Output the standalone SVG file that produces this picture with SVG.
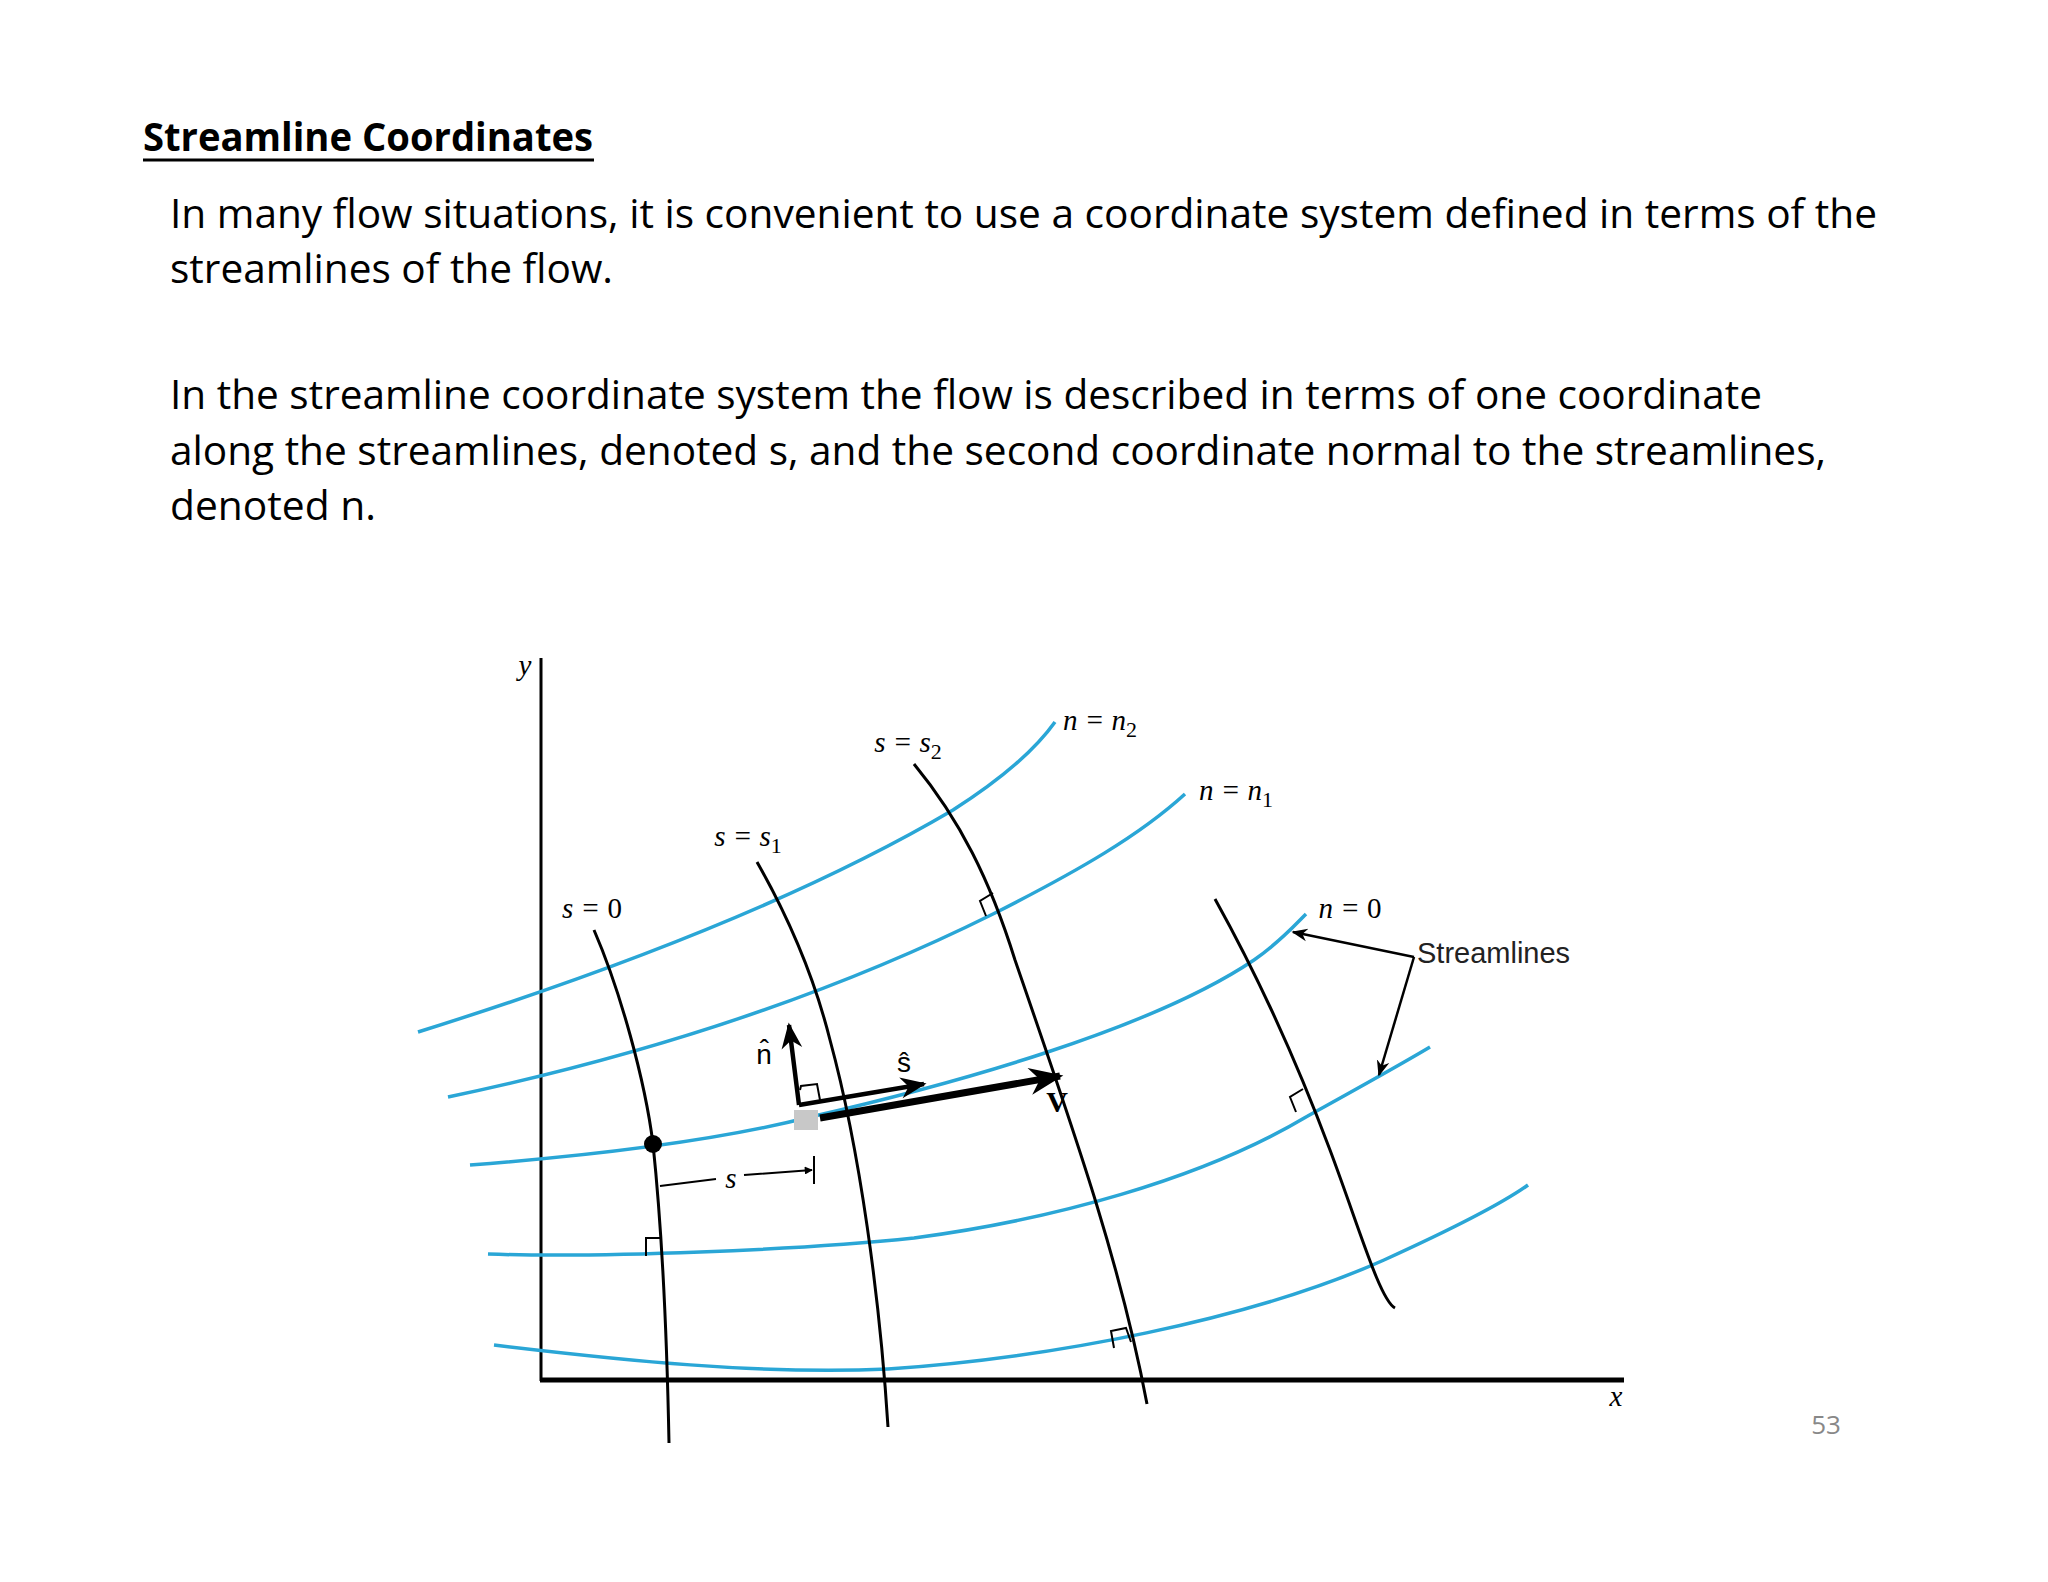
<svg xmlns="http://www.w3.org/2000/svg" width="2048" height="1582" viewBox="0 0 2048 1582">
<style>
.t{font-family:"Open Sans","Liberation Sans",sans-serif;font-size:40px;fill:#000}
.m{font-family:"Liberation Serif",serif;font-style:italic;font-size:29px;fill:#000}
.sl{fill:none;stroke:#2aa6d6;stroke-width:3.5}
.nl{fill:none;stroke:#000;stroke-width:3}
.ra{fill:none;stroke:#000;stroke-width:2}
</style>
<defs>
<marker id="ah" viewBox="0 0 10 10" refX="9" refY="5" markerWidth="10" markerHeight="8" orient="auto" markerUnits="userSpaceOnUse"><path d="M0,0L10,5L0,10z" fill="#000"/></marker>
<marker id="ab" viewBox="0 0 10 10" refX="9" refY="5" markerWidth="16" markerHeight="16" orient="auto" markerUnits="userSpaceOnUse"><path d="M0,1L10,5L0,9L3,5z" fill="#000"/></marker>
<marker id="am" viewBox="0 0 10 10" refX="9" refY="5" markerWidth="32" markerHeight="26" orient="auto" markerUnits="userSpaceOnUse"><path d="M0,1L10,5L0,9L3,5z" fill="#000"/></marker>
<marker id="ab2" viewBox="0 0 10 10" refX="9" refY="5" markerWidth="40" markerHeight="34" orient="auto" markerUnits="userSpaceOnUse"><path d="M0,1L10,5L0,9L3,5z" fill="#000"/></marker>
</defs>
<rect width="2048" height="1582" fill="#fff"/>
<g id="text">
<text x="143" y="151" class="t" font-weight="bold" textLength="450" lengthAdjust="spacingAndGlyphs">Streamline Coordinates</text>
<line x1="143" y1="160" x2="594" y2="160" stroke="#000" stroke-width="3"/>
<text x="170" y="228" class="t" textLength="1707" lengthAdjust="spacingAndGlyphs">In many flow situations, it is convenient to use a coordinate system defined in terms of the</text>
<text x="170" y="283" class="t" textLength="443" lengthAdjust="spacingAndGlyphs">streamlines of the flow.</text>
<text x="170" y="409" class="t" textLength="1592" lengthAdjust="spacingAndGlyphs">In the streamline coordinate system the flow is described in terms of one coordinate</text>
<text x="170" y="465" class="t" textLength="1656" lengthAdjust="spacingAndGlyphs">along the streamlines, denoted s, and the second coordinate normal to the streamlines,</text>
<text x="170" y="520" class="t" textLength="206" lengthAdjust="spacingAndGlyphs">denoted n.</text>
<text x="1826" y="1434" font-family="Open Sans, Liberation Sans, sans-serif" font-size="26" fill="#888" text-anchor="middle">53</text>
</g>
<g id="axes">
<line x1="541" y1="658" x2="541" y2="1381" stroke="#000" stroke-width="3"/>
<line x1="540" y1="1380" x2="1624" y2="1380" stroke="#000" stroke-width="5"/>
<text x="525" y="675" class="m" text-anchor="middle">y</text>
<text x="1616" y="1406" class="m" text-anchor="middle">x</text>
</g>
<g id="streamlines">
<path class="sl" d="M418,1032 C600,975 800,900 953,810 C1000,780 1035,750 1055,722"/>
<path class="sl" d="M448,1097 C600,1065 800,1010 993,914 C1080,870 1140,835 1185,794"/>
<path class="sl" d="M470,1165 C600,1155 720,1140 810,1117 C950,1085 1150,1030 1254,960 C1280,942 1295,925 1306,914"/>
<path class="sl" d="M488,1254 C600,1258 800,1250 914,1238 C1050,1220 1200,1180 1306,1117 C1360,1087 1400,1065 1430,1047"/>
<path class="sl" d="M494,1345 C620,1360 760,1375 888,1369 C1050,1358 1250,1320 1384,1260 C1450,1230 1500,1205 1528,1185"/>
</g>
<g id="normals">
<path class="nl" d="M594,930 C620,990 645,1080 653,1144 C662,1230 667,1340 669,1443"/>
<path class="nl" d="M757,862 C790,920 815,980 830,1040 C860,1150 880,1300 888,1427"/>
<path class="nl" d="M914,764 C960,820 990,880 1015,960 C1070,1120 1120,1260 1147,1404"/>
<path class="nl" d="M1215,899 C1260,980 1300,1070 1330,1150 C1360,1230 1380,1300 1395,1308"/>
<path class="ra" d="M993,893 L980,901 L986,916"/>
<path class="ra" d="M1303,1089 L1290,1097 L1296,1112"/>
<path class="ra" d="M646,1256 L646,1238 L662,1238"/>
<path class="ra" d="M1114,1348 L1111,1331 L1126,1328 L1131,1342"/>
<path class="ra" d="M800,1090 L801,1086 L817,1084 L820,1100"/>
</g>
<g id="vectors">
<circle cx="653" cy="1144" r="9" fill="#000"/>
<rect x="794" y="1110" width="24" height="20" fill="#c8c8c8"/>
<path d="M799,1105 L789,1025" stroke="#000" stroke-width="4.5" fill="none" marker-end="url(#am)"/>
<path d="M799,1105 L924,1084" stroke="#000" stroke-width="4.5" fill="none" marker-end="url(#am)"/>
<path d="M820,1118 L1060,1076" stroke="#000" stroke-width="7" fill="none" marker-end="url(#ab2)"/>
<text x="764" y="1064" font-family="Liberation Sans,sans-serif" font-size="28" text-anchor="middle">n̂</text>
<text x="904" y="1072" font-family="Liberation Sans,sans-serif" font-size="28" text-anchor="middle">ŝ</text>
<text x="1057" y="1112" font-family="Liberation Serif,serif" font-weight="bold" font-size="30" text-anchor="middle">V</text>
<path d="M660,1186 L716,1179 M744,1175 L812,1170" stroke="#000" stroke-width="2" fill="none" marker-end="url(#ah)"/>
<line x1="814" y1="1156" x2="814" y2="1184" stroke="#000" stroke-width="2"/>
<text x="731" y="1188" class="m" text-anchor="middle">s</text>
</g>
<g id="labels">
<text x="592" y="918" class="m" text-anchor="middle">s = <tspan font-style="normal">0</tspan></text>
<text x="748" y="846" class="m" text-anchor="middle">s = s<tspan font-style="normal" font-size="22" dy="7">1</tspan></text>
<text x="908" y="752" class="m" text-anchor="middle">s = s<tspan font-style="normal" font-size="22" dy="7">2</tspan></text>
<text x="1100" y="730" class="m" text-anchor="middle">n = n<tspan font-style="normal" font-size="22" dy="7">2</tspan></text>
<text x="1236" y="800" class="m" text-anchor="middle">n = n<tspan font-style="normal" font-size="22" dy="7">1</tspan></text>
<text x="1350" y="918" class="m" text-anchor="middle">n = <tspan font-style="normal">0</tspan></text>
<text x="1417" y="963" font-family="Liberation Sans,sans-serif" font-size="29" fill="#222">Streamlines</text>
</g>
<g id="connectors">
<path d="M1414,957 L1293,932" stroke="#000" stroke-width="2.5" fill="none" marker-end="url(#ab)"/>
<path d="M1414,957 L1379,1075" stroke="#000" stroke-width="2.5" fill="none" marker-end="url(#ab)"/>
</g>
</svg>
